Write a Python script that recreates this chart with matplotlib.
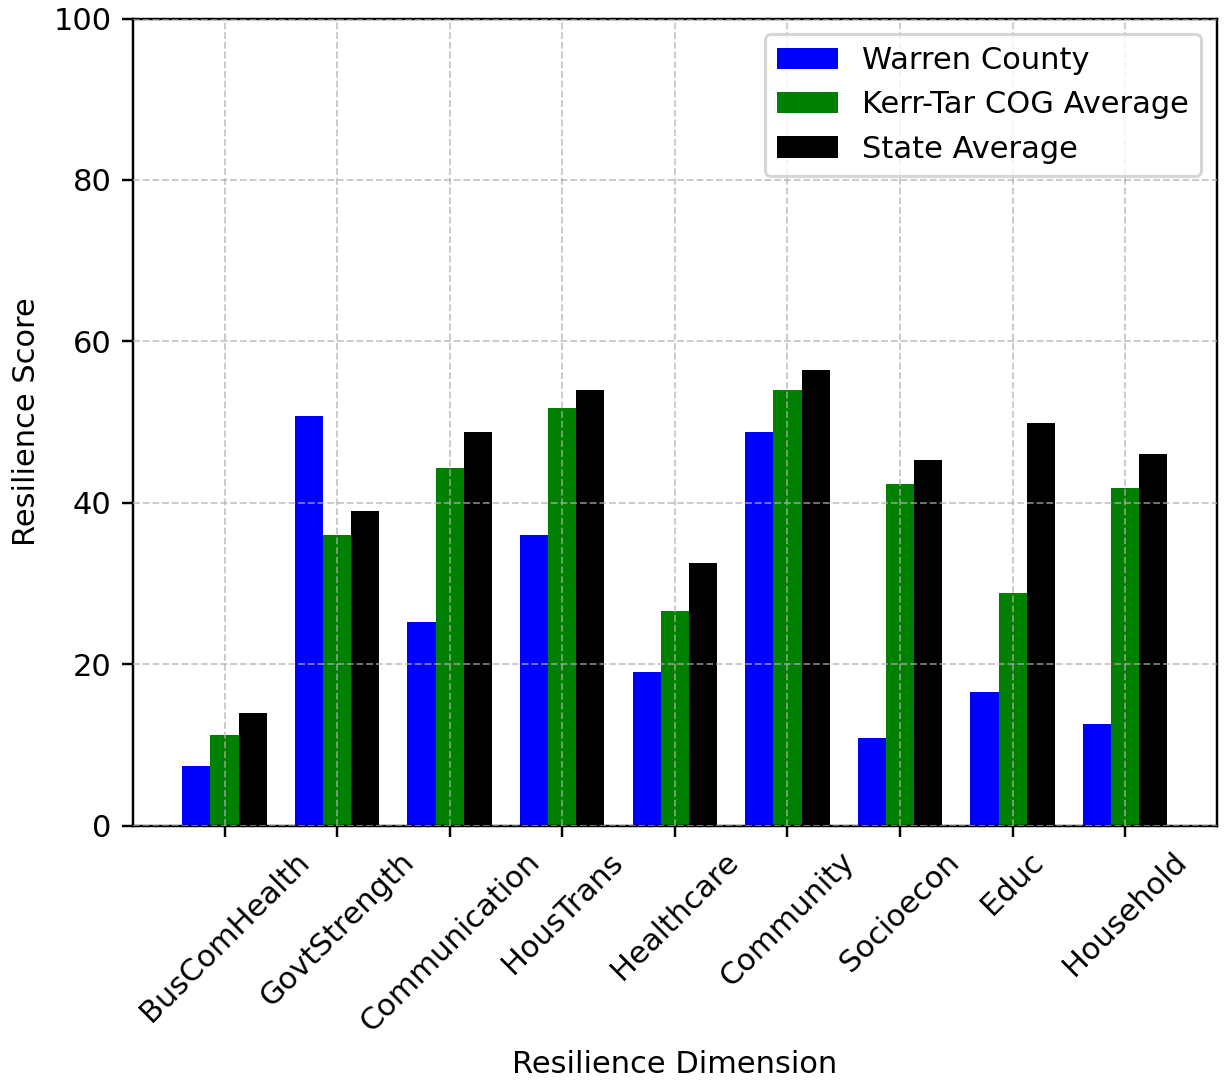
import matplotlib
matplotlib.use("Agg")
import matplotlib.pyplot as plt
import numpy as np

categories = ["BusComHealth", "GovtStrength", "Communication", "HousTrans", "Healthcare",
              "Community", "Socioecon", "Educ", "Household"]
warren = [7.4, 50.7, 25.2, 36.0, 19.1, 48.8, 10.9, 16.6, 12.6]
kerr_tar = [11.2, 36.0, 44.3, 51.7, 26.6, 54.0, 42.3, 28.8, 41.8]
state = [13.9, 39.0, 48.8, 54.0, 32.5, 56.4, 45.3, 49.9, 46.1]
series_labels = ["Warren County", "Kerr-Tar COG Average", "State Average"]

DPI = 220
fig = plt.figure(figsize=(1225 / DPI, 1082 / DPI), dpi=DPI)
ax = fig.add_axes([0.1086, 0.2369, 0.9932 - 0.1086, 0.9829 - 0.2369])

x = np.arange(len(categories))
w = 0.25
ax.bar(x - w, warren, w, color="blue", label=series_labels[0])
ax.bar(x, kerr_tar, w, color="green", label=series_labels[1])
ax.bar(x + w, state, w, color="black", label=series_labels[2])

ax.set_xticks(x)
ax.set_xticklabels(categories, rotation=45)
ax.set_ylim(0, 100)
ax.set_xlabel("Resilience Dimension")
ax.set_ylabel("Resilience Score")
ax.grid(True, linestyle="--", color="#b0b0b0", alpha=0.7, linewidth=0.6)
ax.set_axisbelow(False)
ax.legend(loc="upper right")

fig.savefig("out.png", dpi=DPI)
